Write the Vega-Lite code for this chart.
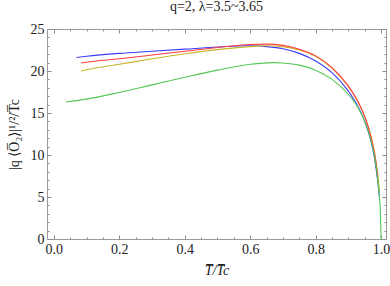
{
  "$schema": "https://vega.github.io/schema/vega-lite/v6.json",
  "width": 339,
  "height": 210,
  "autosize": {"type": "none"},
  "padding": {"left": 47, "top": 29, "right": 4, "bottom": 47},
  "background": "white",
  "title": {"text": "q=2, λ=3.5~3.65", "font": "Times New Roman, Liberation Serif, serif", "fontSize": 14, "fontWeight": "normal", "color": "#222", "anchor": "middle", "offset": 8},
  "config": {
    "view": {"stroke": "#9a9a9a", "strokeWidth": 1},
    "axis": {"domain": false, "grid": false, "ticks": true, "tickColor": "#8c8c8c", "tickWidth": 1, "labelFont": "Times New Roman, Liberation Serif, serif", "labelFontSize": 14, "labelColor": "#222", "titleFont": "Times New Roman, Liberation Serif, serif", "titleFontSize": 14, "titleFontWeight": "normal", "titleColor": "#222"}
  },
  "data": {"values": [
    {"T": 0.069, "v": 21.6, "s": "b"}, {"T": 0.1, "v": 21.75, "s": "b"}, {"T": 0.2, "v": 22.1, "s": "b"}, {"T": 0.3, "v": 22.35, "s": "b"}, {"T": 0.4, "v": 22.6, "s": "b"}, {"T": 0.5, "v": 22.85, "s": "b"}, {"T": 0.6, "v": 23.0, "s": "b"}, {"T": 0.65, "v": 22.9, "s": "b"}, {"T": 0.7, "v": 22.65, "s": "b"}, {"T": 0.75, "v": 22.1, "s": "b"}, {"T": 0.8, "v": 21.2, "s": "b"}, {"T": 0.85, "v": 19.8, "s": "b"}, {"T": 0.9, "v": 17.6, "s": "b"}, {"T": 0.93, "v": 15.7, "s": "b"}, {"T": 0.95, "v": 14.0, "s": "b"}, {"T": 0.97, "v": 11.5, "s": "b"}, {"T": 0.98, "v": 9.6, "s": "b"}, {"T": 0.99, "v": 6.8, "s": "b"}, {"T": 0.995, "v": 5.0, "s": "b"},
    {"T": 0.083, "v": 20.0, "s": "y"}, {"T": 0.1, "v": 20.15, "s": "y"}, {"T": 0.2, "v": 20.8, "s": "y"}, {"T": 0.3, "v": 21.45, "s": "y"}, {"T": 0.4, "v": 22.05, "s": "y"}, {"T": 0.5, "v": 22.55, "s": "y"}, {"T": 0.6, "v": 22.9, "s": "y"}, {"T": 0.65, "v": 23.0, "s": "y"}, {"T": 0.7, "v": 22.9, "s": "y"}, {"T": 0.75, "v": 22.5, "s": "y"}, {"T": 0.8, "v": 21.75, "s": "y"}, {"T": 0.85, "v": 20.35, "s": "y"}, {"T": 0.9, "v": 18.15, "s": "y"}, {"T": 0.93, "v": 16.3, "s": "y"}, {"T": 0.95, "v": 14.6, "s": "y"}, {"T": 0.97, "v": 12.1, "s": "y"}, {"T": 0.98, "v": 10.3, "s": "y"}, {"T": 0.99, "v": 7.6, "s": "y"}, {"T": 0.995, "v": 5.8, "s": "y"},
    {"T": 0.083, "v": 20.95, "s": "r"}, {"T": 0.1, "v": 21.05, "s": "r"}, {"T": 0.2, "v": 21.45, "s": "r"}, {"T": 0.3, "v": 21.9, "s": "r"}, {"T": 0.4, "v": 22.35, "s": "r"}, {"T": 0.5, "v": 22.8, "s": "r"}, {"T": 0.6, "v": 23.15, "s": "r"}, {"T": 0.65, "v": 23.2, "s": "r"}, {"T": 0.7, "v": 23.05, "s": "r"}, {"T": 0.75, "v": 22.6, "s": "r"}, {"T": 0.8, "v": 21.8, "s": "r"}, {"T": 0.85, "v": 20.4, "s": "r"}, {"T": 0.9, "v": 18.2, "s": "r"}, {"T": 0.93, "v": 16.3, "s": "r"}, {"T": 0.95, "v": 14.6, "s": "r"}, {"T": 0.97, "v": 12.0, "s": "r"}, {"T": 0.98, "v": 10.2, "s": "r"}, {"T": 0.99, "v": 7.4, "s": "r"},
    {"T": 0.037, "v": 16.3, "s": "g"}, {"T": 0.1, "v": 16.65, "s": "g"}, {"T": 0.2, "v": 17.45, "s": "g"}, {"T": 0.3, "v": 18.35, "s": "g"}, {"T": 0.4, "v": 19.25, "s": "g"}, {"T": 0.5, "v": 20.1, "s": "g"}, {"T": 0.6, "v": 20.8, "s": "g"}, {"T": 0.67, "v": 21.0, "s": "g"}, {"T": 0.7, "v": 20.95, "s": "g"}, {"T": 0.75, "v": 20.7, "s": "g"}, {"T": 0.8, "v": 20.1, "s": "g"}, {"T": 0.85, "v": 19.0, "s": "g"}, {"T": 0.9, "v": 17.2, "s": "g"}, {"T": 0.93, "v": 15.6, "s": "g"}, {"T": 0.95, "v": 14.0, "s": "g"}, {"T": 0.97, "v": 11.6, "s": "g"}, {"T": 0.98, "v": 9.8, "s": "g"}, {"T": 0.99, "v": 7.0, "s": "g"}, {"T": 0.995, "v": 5.0, "s": "g"}, {"T": 0.998, "v": 3.0, "s": "g"}, {"T": 1.0, "v": 0.0, "s": "g"}
  ]},
  "resolve": {"axis": {"x": "independent", "y": "independent"}},
  "layer": [
    {
      "mark": {"type": "line", "strokeWidth": 1.1, "interpolate": "monotone", "clip": true},
      "encoding": {
        "x": {"field": "T", "type": "quantitative", "scale": {"domain": [-0.021, 1.015], "nice": false, "zero": false},
          "axis": {"orient": "bottom", "values": [0, 0.2, 0.4, 0.6, 0.8, 1.0], "format": ".1f", "offset": -4, "tickSize": 4, "labelPadding": 3, "title": "T̅/T̅c", "titleFontStyle": "italic", "titlePadding": 7}},
        "y": {"field": "v", "type": "quantitative", "scale": {"domain": [0, 25], "nice": false},
          "axis": {"orient": "left", "values": [0, 5, 10, 15, 20, 25], "offset": -4, "tickSize": 4, "labelPadding": 3, "title": "|q ⟨O̅₂⟩|¹/²/T̅c", "titlePadding": 9}},
        "color": {"field": "s", "type": "nominal", "legend": null, "scale": {"domain": ["g", "b", "y", "r"], "range": ["#55c855", "#3c3cff", "#c8b428", "#ff3c3c"]}},
        "order": {"field": "s"}
      }
    },
    {
      "mark": {"type": "line", "opacity": 0},
      "encoding": {
        "x": {"field": "T", "type": "quantitative", "axis": {"orient": "bottom", "values": [0.05, 0.1, 0.15, 0.25, 0.3, 0.35, 0.45, 0.5, 0.55, 0.65, 0.7, 0.75, 0.85, 0.9, 0.95], "labels": false, "offset": -2, "tickSize": 2, "title": null}},
        "y": {"field": "v", "type": "quantitative", "axis": {"orient": "left", "values": [1, 2, 3, 4, 6, 7, 8, 9, 11, 12, 13, 14, 16, 17, 18, 19, 21, 22, 23, 24], "labels": false, "offset": -2, "tickSize": 2, "title": null}},
        "detail": {"field": "s"}
      }
    },
    {
      "mark": {"type": "line", "opacity": 0},
      "encoding": {
        "x": {"field": "T", "type": "quantitative", "axis": {"orient": "top", "values": [0, 0.2, 0.4, 0.6, 0.8, 1.0], "labels": false, "offset": -4, "tickSize": 4, "title": null}},
        "y": {"field": "v", "type": "quantitative", "axis": {"orient": "right", "values": [0, 5, 10, 15, 20, 25], "labels": false, "offset": -4, "tickSize": 4, "title": null}},
        "detail": {"field": "s"}
      }
    },
    {
      "mark": {"type": "line", "opacity": 0},
      "encoding": {
        "x": {"field": "T", "type": "quantitative", "axis": {"orient": "top", "values": [0.05, 0.1, 0.15, 0.25, 0.3, 0.35, 0.45, 0.5, 0.55, 0.65, 0.7, 0.75, 0.85, 0.9, 0.95], "labels": false, "offset": -2, "tickSize": 2, "title": null}},
        "y": {"field": "v", "type": "quantitative", "axis": {"orient": "right", "values": [1, 2, 3, 4, 6, 7, 8, 9, 11, 12, 13, 14, 16, 17, 18, 19, 21, 22, 23, 24], "labels": false, "offset": -2, "tickSize": 2, "title": null}},
        "detail": {"field": "s"}
      }
    }
  ]
}
